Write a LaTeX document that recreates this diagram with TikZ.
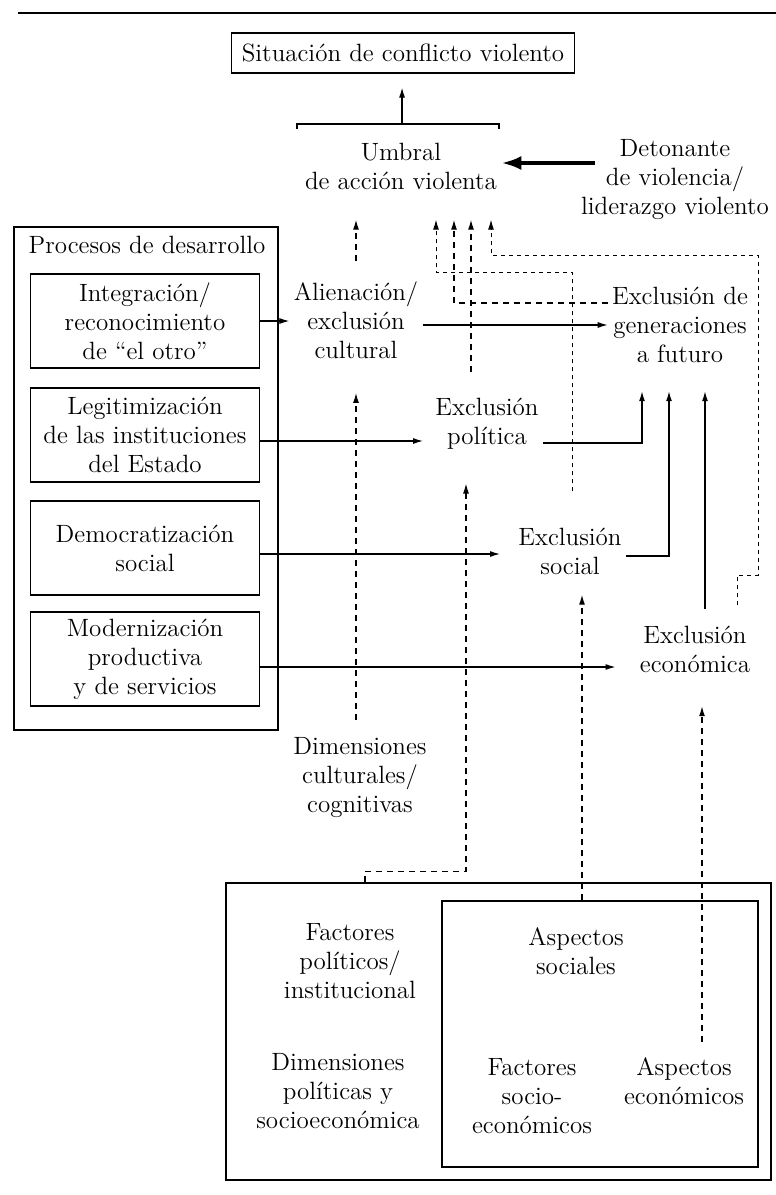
\documentclass[tikz,border=0pt]{standalone}
\usepackage{fontspec}
\usepackage{tikz}
\usetikzlibrary{arrows.meta,calc,positioning}
\newcommand{\diafont}{\fontsize{12.5}{14.5}\selectfont}

\begin{document}
\begin{tikzpicture}[x=0.5pt,y=-0.5pt,
    txt/.style={align=center,font=\diafont,inner sep=2pt},
    procbox/.style={draw,line width=0.6pt,align=center,font=\diafont,minimum width=114.5pt,minimum height=47pt,inner xsep=1pt},
    arr/.style={line width=0.6pt,-{Latex[length=5pt,width=3pt]}},
    dasharr/.style={arr,dash pattern=on 3pt off 2.5pt},
    dotarr/.style={arr,line width=0.5pt,dash pattern=on 2pt off 2pt},
    fatarr/.style={line width=2pt,-{Latex[length=10pt,width=7pt]}}]
  \useasboundingbox (0,0) rectangle (776,1195);
  \draw[line width=0.8pt] (18,13) -- (776,13);

  % top of the chain
  \node[draw,line width=0.6pt,font=\diafont,minimum height=20pt,inner xsep=5pt] (situ) at (403,53) {Situación de conflicto violento};
  \draw[line width=0.6pt] (297,129) -- (297,124) coordinate (brL) -- (499,124) coordinate (brR) -- (499,129);
  \coordinate (brM) at ($(brL)!0.52!(brR)$);
  \draw[arr,shorten >=7pt] (brM) -- (brM |- situ.south);

  \node[txt] (umbral) at (401,166) {Umbral\\de acción violenta};
  \node[txt] (deton) at (675,180) {Detonante\\de violencia/\\liderazgo violento};
  \draw[fatarr] ([xshift=9pt,yshift=8.5pt]deton.west) -- ([yshift=1.5pt]umbral.east);

  % development processes
  \node[draw,line width=0.6pt,minimum width=132pt,minimum height=251.5pt] (proc) at (146,478.5) {};
  \node[txt] (proctit) at (147,245) {Procesos de desarrollo};
  \node[procbox] (integ) at (145,321) {Integración/\\reconocimiento\\de “el otro”};
  \node[procbox] (legit) at (145,435) {Legitimización\\de las instituciones\\del Estado};
  \node[procbox] (democ) at (145,548) {Democratización\\social};
  \node[procbox] (moder) at (145,659) {Modernización\\productiva\\y de servicios};

  % exclusions
  \node[txt] (alien) at (356,320) {Alienación/\\exclusión\\cultural};
  \node[txt] (exgen) at (680,325) {Exclusión de\\generaciones\\a futuro};
  \node[txt] (expol) at (487,424) {Exclusión\\política};
  \node[txt] (exsoc) at (570,551) {Exclusión\\social};
  \node[txt] (execo) at (695,649) {Exclusión\\económica};
  \node[txt] (dimcul) at (360,778) {Dimensiones\\culturales/\\cognitivas};

  % factors
  \node[draw,line width=0.6pt,minimum width=272.5pt,minimum height=148.5pt] (socbox) at (498.5,1031.5) {};
  \node[draw,line width=0.6pt,minimum width=158pt,minimum height=133pt] (aspbox) at (600,1034) {};
  \node[txt] (factpol) at (350,961) {Factores\\políticos/\\institucional};
  \node[txt] (dimpol) at (338,1091) {Dimensiones\\políticas y\\socioeconómica};
  \node[txt] (aspsoc) at (576,951) {Aspectos\\sociales};
  \node[txt] (factsoc) at (532,1096) {Factores\\socio-\\económicos};
  \node[txt] (aspeco) at (684,1081) {Aspectos\\económicos};

  % solid links
  \draw[arr] (integ.east) -- (integ.east -| alien.west);
  \draw[arr] (alien.east |- exgen.west) -- (exgen.west);
  \draw[arr,shorten >=4pt] ([yshift=-3pt]legit.east) -- ([yshift=-3pt]legit.east -| expol.west);
  \draw[arr,shorten >=7pt] ([yshift=-3pt]democ.east) -- ([yshift=-3pt]democ.east -| exsoc.west);
  \draw[arr,shorten >=10pt] ([yshift=-4pt]moder.east) -- ([yshift=-4pt]moder.east -| execo.west);
  \draw[arr] ([yshift=-9.5pt]expol.east) -| ([xshift=-19pt,yshift=-12pt]exgen.south);
  \draw[arr] ([yshift=-2.5pt]exsoc.east) -| ([xshift=-5.5pt,yshift=-12pt]exgen.south);
  \draw[arr] ([xshift=5pt,yshift=6pt]execo.north) -- ([xshift=12.5pt,yshift=-12pt]exgen.south);

  % dashed links up to the threshold
  \coordinate (ua) at ($(umbral.south)+(35,26)$);
  \coordinate (ub) at ($(umbral.south)+(53,26)$);
  \coordinate (uc) at ($(umbral.south)+(70,26)$);
  \coordinate (ud) at ($(umbral.south)+(90,26)$);
  \draw[dasharr,shorten >=13pt] ([yshift=8pt]alien.north) -- (alien.north |- umbral.south);
  \draw[dotarr] ([xshift=1pt,yshift=16pt]exsoc.north) |- ($(ua)+(0,53)$) -- (ua);
  \draw[dasharr] ([yshift=11pt]exgen.west) -| (ub);
  \draw[dasharr] ([xshift=-8pt,yshift=11pt]expol.north) -- (uc);
  \draw[dotarr] ([xshift=21pt,yshift=8pt]execo.north) -- ++(0,-30) -- ++(21,0) |- ($(ud)+(0,36)$) -- (ud);

  % dashed links from the dimensions
  \draw[dasharr,shorten <=7pt,shorten >=15pt] (alien.south |- dimcul.north) -- (alien.south);
  \coordinate (s5) at ($(socbox.north -| factpol.north)+(15,0)$);
  \draw[dasharr] (s5) -- ++(0,-11) -| ([xshift=-10.5pt,yshift=-14.75pt]expol.south);
  \coordinate (tsoc) at ([xshift=6pt,yshift=-8pt]exsoc.south);
  \draw[dasharr] (aspbox.north -| tsoc) -- (tsoc);
  \coordinate (teco) at ([xshift=3.5pt,yshift=-14.75pt]execo.south);
  \coordinate (seco) at ($(teco |- aspeco.north)+(0,-11.5)$);
  \draw[dasharr] (seco) -- (teco);
\end{tikzpicture}
\end{document}
